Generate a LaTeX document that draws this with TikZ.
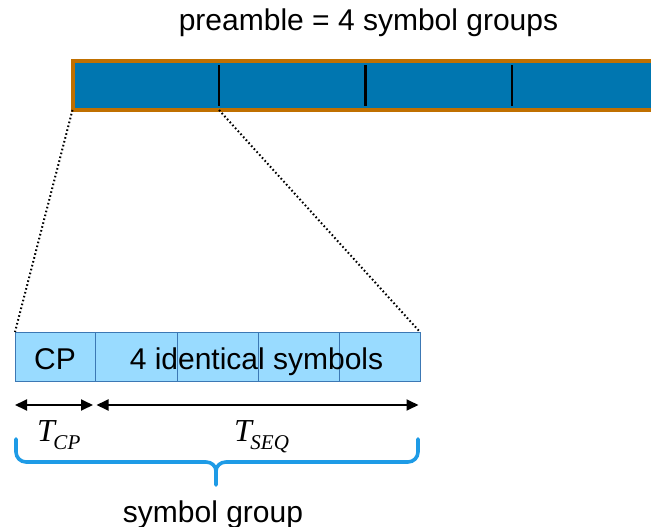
\documentclass[tikz,border=0pt]{standalone}
\usepackage{fontspec}
\setmainfont{Liberation Sans}
\newfontfamily\timesfont{Liberation Serif}
\usetikzlibrary{arrows.meta}

\definecolor{barblue}{RGB}{0,118,176}
\definecolor{barorange}{RGB}{192,112,0}
\definecolor{cellblue}{RGB}{153,219,255}
\definecolor{celledge}{RGB}{60,120,180}
\definecolor{bracecol}{RGB}{30,155,230}

\newcommand{\tsub}[1]{{\fontsize{32}{34}\timesfont\itshape T}\kern-1.5pt\raisebox{-8pt}{\fontsize{21}{23}\timesfont\itshape #1}}

\tikzset{
  bigtext/.style={font=\fontsize{30}{36}\selectfont, inner sep=0pt},
  groupseg/.style={minimum width=146.5pt, minimum height=48.5pt, inner sep=0pt, outer sep=0pt},
  cell/.style={draw=celledge, line width=0.8pt, fill=cellblue, minimum height=49pt, inner sep=0pt, outer sep=0pt},
  divider/.style={line width=2.2pt, black},
  zoomline/.style={line width=2pt, black, dash pattern=on 1.6pt off 2.4pt},
  span/.style={{Triangle[length=12pt,width=11pt]}-{Triangle[length=12pt,width=11pt]}, line width=1.8pt},
  bracket/.style={bracecol, line width=3.6pt, line cap=round, line join=round},
}

\begin{document}
\begin{tikzpicture}[x=1pt,y=-1pt]
  \useasboundingbox (0,0) rectangle (651,527);

  % preamble bar: four symbol groups, running off the right edge
  \begin{scope}
    \clip (0,0) rectangle (651,527);
    \fill[barblue] (72.5,61.5) rectangle (700,110);
    \node[groupseg] (g1) at (145.75,85.75) {};
    \node[groupseg] (g2) at (292.25,85.75) {};
    \node[groupseg] (g3) at (438.75,85.75) {};
    \node[groupseg] (g4) at (585.25,85.75) {};
    \draw[barorange, line width=4pt] (700,61.5) -- (g1.north west |- 0,61.5) -- (72.5,110) -- (700,110);
    \draw[divider] ([yshift=-4pt]g1.north east) -- ([yshift=4pt]g1.south east);
    \draw[divider] ([yshift=-4pt]g2.north east) -- ([yshift=4pt]g2.south east);
    \draw[divider] ([yshift=-4pt]g3.north east) -- ([yshift=4pt]g3.south east);
  \end{scope}

  \node[bigtext, anchor=base] (title) at (368.5,31) {preamble = 4 symbol groups};

  % one symbol group: cyclic prefix and four identical symbols
  \node[cell, minimum width=80pt] (cp) at (55,356.5) {};
  \node[cell, minimum width=82pt] (s1) at (136,356.5) {};
  \node[cell, minimum width=81pt] (s2) at (217.5,356.5) {};
  \node[cell, minimum width=81pt] (s3) at (298.5,356.5) {};
  \node[cell, minimum width=81pt] (s4) at (379.5,356.5) {};
  \node[bigtext, anchor=base] (cptext) at (55,369) {CP};
  \node[bigtext, anchor=base] (symtext) at (256.5,369) {4 identical symbols};

  % zoom lines from the first group down to its expansion
  \draw[zoomline] (72.5,110) -- (cp.north west);
  \draw[zoomline] (g1.south east) -- (s4.north east);

  % duration arrows
  \coordinate (a0) at (15,405);
  \coordinate (a1) at (95,405);
  \coordinate (a2) at (420,405);
  \draw[span, shorten >=2pt] (a0) -- (a1);
  \draw[span, shorten <=1.5pt, shorten >=1.5pt] (a1) -- (a2);
  \node[anchor=base west, inner sep=0pt] (tcp) at (37,441) {\tsub{CP}};
  \node[anchor=base west, inner sep=0pt] (tseq) at (234,441) {\tsub{SEQ}};

  % brace under the symbol group
  \coordinate (b0) at (16,439);
  \coordinate (bm) at (216,485);
  \coordinate (b1) at (418,439);
  \draw[bracket] (b0) -- (16,452) to[out=-90,in=180] (26,462) -- (206,462)
        to[out=0,in=90] (216,471) -- (bm);
  \draw[bracket] (216,471) to[out=90,in=180] (226,462) -- (408,462)
        to[out=0,in=-90] (418,452) -- (b1);

  \node[bigtext, anchor=base] (grouplabel) at (213,522) {symbol group};
\end{tikzpicture}
\end{document}
